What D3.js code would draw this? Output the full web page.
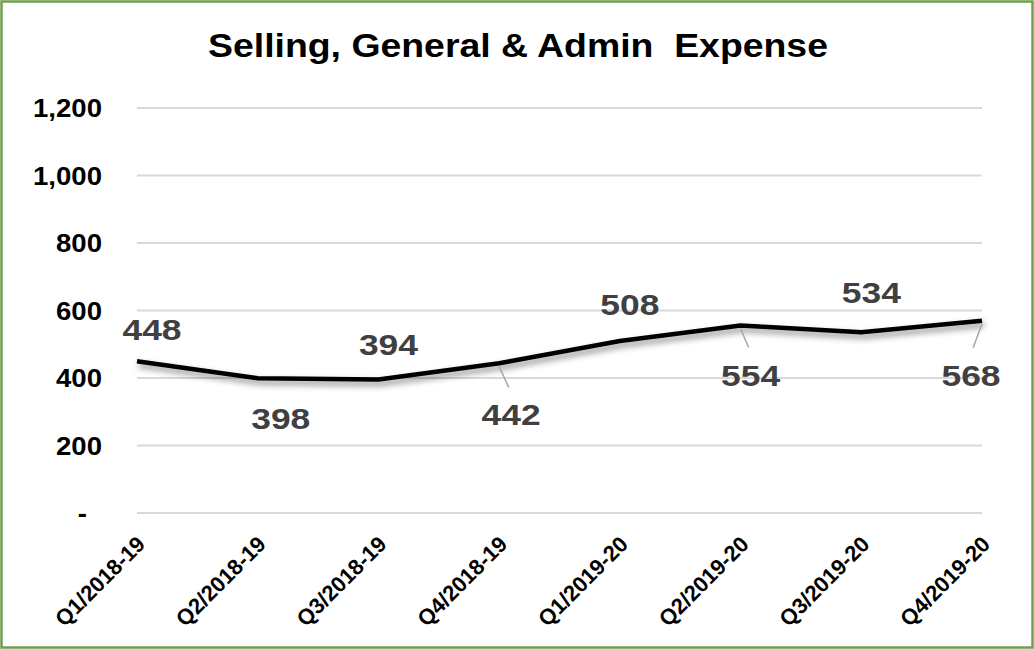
<!DOCTYPE html>
<html>
<head>
<meta charset="utf-8">
<script src="https://cdn.jsdelivr.net/npm/d3@7"></script>
<style>
  body { margin: 0; background: #ffffff; }
  text { font-family: "Liberation Sans", Arial, sans-serif; font-weight: bold; }
</style>
</head>
<body>
<div id="container"></div>
<script>
let w = 1034;
let h = 649;

// the data
let quarters = ["Q1/2018-19", "Q2/2018-19", "Q3/2018-19", "Q4/2018-19",
                "Q1/2019-20", "Q2/2019-20", "Q3/2019-20", "Q4/2019-20"];
let expense = [448, 398, 394, 442, 508, 554, 534, 568];
let yTicks = [0, 200, 400, 600, 800, 1000, 1200];
let yTickLabels = ["-", "200", "400", "600", "800", "1,000", "1,200"];

// where each data label sits relative to its point (dx, dy of baseline)
let labelOffsets = [[15, -21], [23, 51], [10, -25], [12, 62], [10, -26], [10, 60], [10, -29], [-11, 65]];
let hasLeader = [false, false, false, true, false, true, false, true];

let viz = d3.select("#container")
  .append("svg")
    .attr("width", w)
    .attr("height", h)
    .style("background-color", "#ffffff")
;

// shadow under the line
let defs = viz.append("defs");
let shadow = defs.append("filter").attr("id", "shadow")
  .attr("x", "-10%").attr("y", "-50%").attr("width", "120%").attr("height", "250%");
shadow.append("feDropShadow")
  .attr("dx", 2).attr("dy", 4).attr("stdDeviation", 3)
  .attr("flood-color", "#000").attr("flood-opacity", 0.45);

// green frame
viz.append("rect")
  .attr("x", 1.5).attr("y", 1.5)
  .attr("width", w - 3).attr("height", h - 3)
  .attr("fill", "none")
  .attr("stroke", "#6f9f4c")
  .attr("stroke-width", 2.5);

// title
viz.append("text")
  .attr("transform", "translate(518,57) scale(1.1,1)")
  .attr("text-anchor", "middle")
  .attr("font-size", 34)
  .attr("fill", "#000")
  .attr("xml:space", "preserve")
  .text("Selling, General & Admin  Expense");

let xScale = d3.scalePoint().domain(quarters).range([137, 982]);
let yScale = d3.scaleLinear().domain([0, 1200]).range([512.5, 107.5]);

// y axis with gridlines
let yAxis = d3.axisLeft(yScale)
  .tickValues(yTicks)
  .tickSize(-(982 - 137))
  .tickFormat(function(d, i){ return yTickLabels[i]; });
let yAxisGroup = viz.append("g").attr("class", "yaxis")
  .attr("transform", "translate(137,0)")
  .call(yAxis);
yAxisGroup.select(".domain").remove();
yAxisGroup.selectAll(".tick line")
  .attr("stroke", "#d9d9d9")
  .attr("stroke-width", 2);
yAxisGroup.selectAll(".tick text")
  .attr("font-size", 26)
  .attr("font-family", "Liberation Sans, Arial, sans-serif")
  .attr("font-weight", "bold")
  .attr("fill", "#000")
  .attr("x", 0)
  .attr("dy", "0.35em")
  .attr("transform", function(d){
    let shift = (d == 0) ? -50 : -35;
    return "translate(" + shift + ",0) scale(1.06,1)";
  });

// x axis labels, rotated
let xAxis = d3.axisBottom(xScale).tickSize(0);
let xAxisGroup = viz.append("g").attr("class", "xaxis")
  .attr("transform", "translate(0,512.5)")
  .call(xAxis);
xAxisGroup.select(".domain").remove();
xAxisGroup.selectAll(".tick text")
  .attr("font-size", 22)
  .attr("font-family", "Liberation Sans, Arial, sans-serif")
  .attr("font-weight", "bold")
  .attr("fill", "#000")
  .attr("text-anchor", "end")
  .attr("x", 0).attr("y", 0).attr("dy", 0)
  .attr("transform", "translate(9,33) rotate(-45)");

// the line
let line = d3.line()
  .x(function(d, i){ return xScale(quarters[i]); })
  .y(function(d){ return yScale(d); });

viz.append("path")
  .datum(expense)
  .attr("d", line)
  .attr("fill", "none")
  .attr("stroke", "#000")
  .attr("stroke-width", 4.5)
  .attr("stroke-linejoin", "round")
  .attr("filter", "url(#shadow)");

// leader lines
let leaders = viz.append("g").attr("class", "leaders");
expense.forEach(function(v, i){
  if(!hasLeader[i]) return;
  let px = xScale(quarters[i]);
  let py = yScale(v);
  let off = labelOffsets[i];
  leaders.append("line")
    .attr("x1", px).attr("y1", py + 3)
    .attr("x2", px + off[0] * 0.8).attr("y2", py + off[1] - 38)
    .attr("stroke", "#a6a6a6")
    .attr("stroke-width", 1.5);
});

// data labels
viz.append("g").attr("class", "labels")
  .selectAll("text")
  .data(expense)
  .enter()
  .append("text")
    .attr("transform", function(d, i){
      let x = xScale(quarters[i]) + labelOffsets[i][0];
      let y = yScale(d) + labelOffsets[i][1];
      return "translate(" + x + "," + y + ") scale(1.18,1)";
    })
    .attr("text-anchor", "middle")
    .attr("font-size", 30)
    .attr("fill", "#404040")
    .text(function(d){ return d; });
</script>
</body>
</html>
